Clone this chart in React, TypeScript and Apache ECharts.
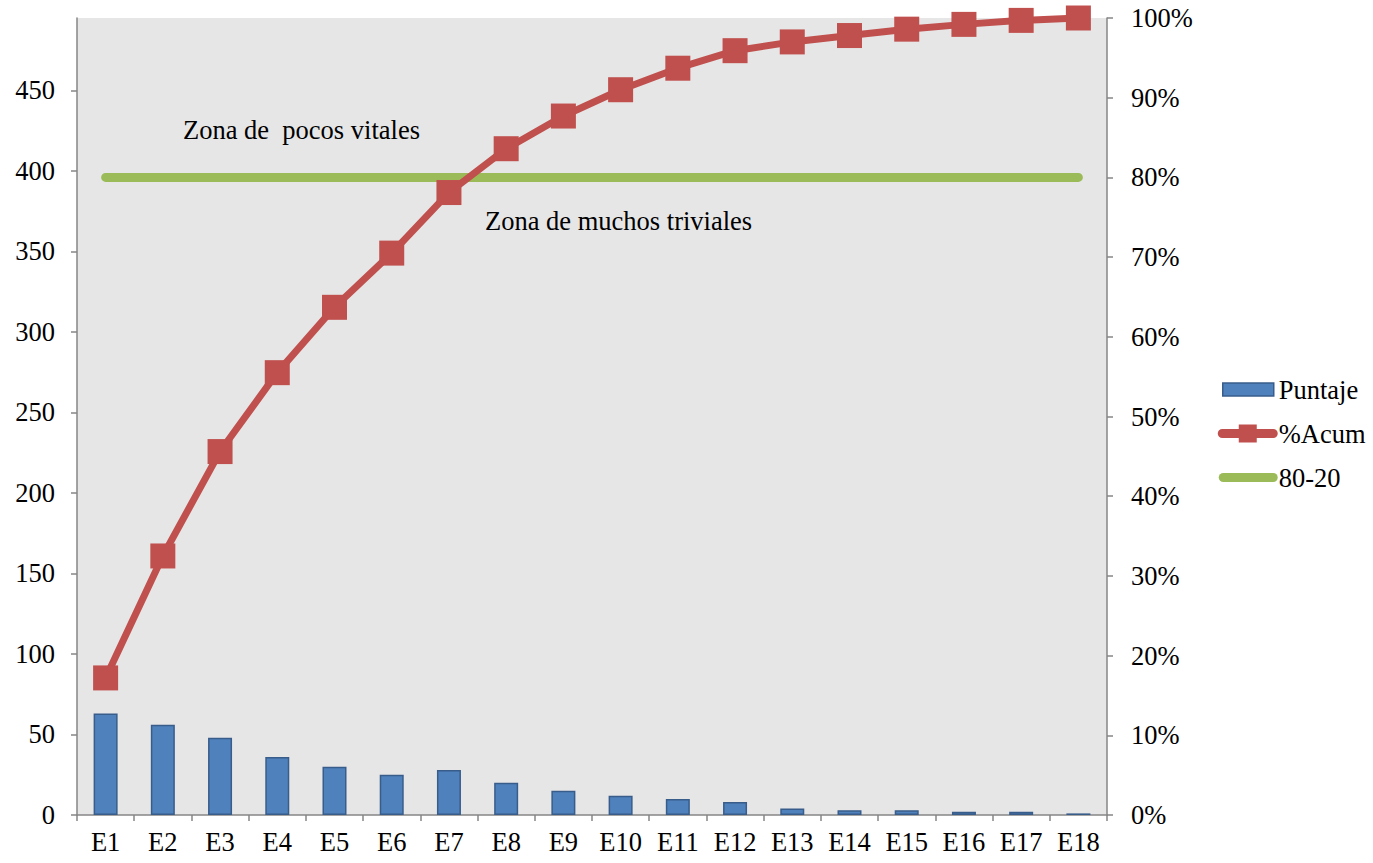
import React, { useEffect, useRef } from "react";
import * as echarts from "echarts";

// Pareto data: score per element and cumulative percentage
const categories = ["E1", "E2", "E3", "E4", "E5", "E6", "E7", "E8", "E9", "E10", "E11", "E12", "E13", "E14", "E15", "E16", "E17", "E18"];
const puntaje = [63, 56, 48, 36, 30, 25, 28, 20, 15, 12, 10, 8, 4, 3, 3, 2, 2, 1];
const acumPct = [17.2, 32.5, 45.6, 55.5, 63.7, 70.5, 78.1, 83.6, 87.7, 91.0, 93.7, 95.9, 97.0, 97.8, 98.6, 99.2, 99.7, 100];
const corte = [80, 80, 80, 80, 80, 80, 80, 80, 80, 80, 80, 80, 80, 80, 80, 80, 80, 80];
const leftTicks = [0, 50, 100, 150, 200, 250, 300, 350, 400, 450];

const FONT = "Liberation Serif";
const FS = 26.5;
const AXIS_GRAY = "#868686";

// Legend icons on a common 60x18 box: bar swatch, thick line with square marker, thick rounded line
const BOX = "M0,0 M60,18 ";
const ICON_BAR = "path://" + BOX + "M5,2.5 H56 V15.5 H5 Z";
const ICON_ACUM =
  "path://" + BOX + "M4.5,4.5 H21 V0 H39 V4.5 H55.5 A4.5,4.5 0 0 1 55.5,13.5 H39 V18 H21 V13.5 H4.5 A4.5,4.5 0 0 1 4.5,4.5 Z";
const ICON_CORTE = "path://" + BOX + "M5.5,4.5 H55.5 A4.5,4.5 0 0 1 55.5,13.5 H5.5 A4.5,4.5 0 0 1 5.5,4.5 Z";

export default function App() {
  const ref = useRef<HTMLDivElement>(null);

  useEffect(() => {
    if (!ref.current) return;
    const chart = echarts.init(ref.current, null, { renderer: "svg" });
    const labelStyle = { color: "#000", fontFamily: FONT, fontSize: FS };
    chart.setOption({
      animation: false,
      backgroundColor: "#fff",
      grid: {
        left: 77,
        right: 266,
        top: 18,
        bottom: 48,
        show: true,
        backgroundColor: "#E6E6E6",
        borderWidth: 0,
      },
      legend: {
        orient: "vertical",
        left: 1217,
        top: 376,
        padding: 0,
        itemWidth: 60,
        itemHeight: 18,
        itemGap: 17,
        symbolKeepAspect: true,
        textStyle: { ...labelStyle, padding: [0, 0, 0, -4] },
        data: [
          { name: "Puntaje", icon: ICON_BAR, itemStyle: { color: "#4F81BD", borderColor: "#385D8A", borderWidth: 1.5 } },
          { name: "%Acum", icon: ICON_ACUM, itemStyle: { color: "#C0504D", borderWidth: 0 } },
          { name: "80-20", icon: ICON_CORTE, itemStyle: { color: "#9BBB59", borderWidth: 0 } },
        ],
      },
      xAxis: {
        type: "category",
        data: categories,
        boundaryGap: true,
        axisLine: { lineStyle: { color: AXIS_GRAY, width: 1.5 } },
        axisTick: { show: true, length: 6, alignWithLabel: false, lineStyle: { color: AXIS_GRAY, width: 1.5 } },
        axisLabel: { ...labelStyle, margin: 13, interval: 0 },
        splitLine: { show: false },
      },
      yAxis: [
        {
          type: "value",
          min: 0,
          max: 495,
          interval: 50,
          position: "left",
          axisLine: { show: true, lineStyle: { color: AXIS_GRAY, width: 1.5 } },
          axisTick: { show: true, length: 6, customValues: leftTicks, lineStyle: { color: AXIS_GRAY, width: 1.5 } },
          axisLabel: { ...labelStyle, margin: 22, customValues: leftTicks },
          splitLine: { show: false },
        },
        {
          type: "value",
          min: 0,
          max: 100,
          interval: 10,
          position: "right",
          axisLine: { show: true, lineStyle: { color: AXIS_GRAY, width: 1.5 } },
          axisTick: { show: true, length: 6, lineStyle: { color: AXIS_GRAY, width: 1.5 } },
          axisLabel: { ...labelStyle, margin: 24, formatter: "{value}%" },
          splitLine: { show: false },
        },
      ],
      series: [
        {
          name: "Puntaje",
          type: "bar",
          data: puntaje,
          yAxisIndex: 0,
          barWidth: 24,
          itemStyle: { color: "#4F81BD", borderColor: "#385D8A", borderWidth: 1.5 },
        },
        {
          name: "%Acum",
          type: "line",
          data: acumPct,
          yAxisIndex: 1,
          symbol: "rect",
          symbolSize: 25,
          z: 4,
          lineStyle: { color: "#C0504D", width: 7 },
          itemStyle: { color: "#C0504D" },
        },
        {
          name: "80-20",
          type: "line",
          data: corte,
          yAxisIndex: 1,
          symbol: "none",
          z: 3,
          lineStyle: { color: "#9BBB59", width: 9, cap: "round" },
          itemStyle: { color: "#9BBB59" },
        },
      ],
      graphic: [
        {
          type: "text",
          left: 183,
          top: 116,
          z: 10,
          style: { text: "Zona de  pocos vitales", fill: "#000", fontFamily: FONT, fontSize: FS },
        },
        {
          type: "text",
          left: 485,
          top: 207,
          z: 10,
          style: { text: "Zona de muchos triviales", fill: "#000", fontFamily: FONT, fontSize: FS },
        },
      ],
    });
    return () => chart.dispose();
  }, []);

  return (
    <div
      ref={ref}
      style={{ position: "fixed", left: 0, top: 0, width: 1373, height: 863 }}
    />
  );
}
